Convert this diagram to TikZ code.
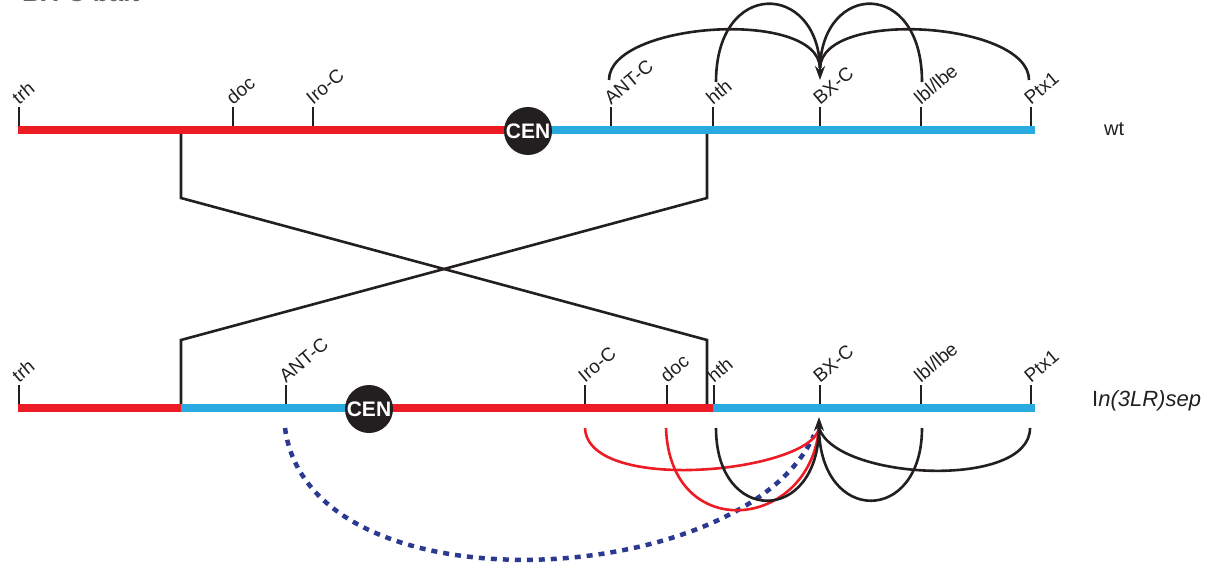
\documentclass[tikz,border=0pt]{standalone}
\usepackage{fontspec}
\setmainfont{Liberation Sans}
\usetikzlibrary{arrows.meta}
\definecolor{cred}{HTML}{ED1C24}
\definecolor{cblue}{HTML}{29ABE2}
\definecolor{cblk}{HTML}{231F20}
\definecolor{cnavy}{HTML}{2B3990}
\tikzset{
  chrom/.style={line width=8pt},
  tick/.style={line width=2.6pt, cblk},
  lab/.style={rotate=40, anchor=south west, inner sep=1pt, font=\fontsize{19}{19}\selectfont, text=cblk},
  link/.style={line width=2.6pt, cblk},
  arc/.style={line width=2.6pt, cblk},
  redarc/.style={line width=2.6pt, cred},
  dotarc/.style={line width=4.5pt, cnavy, dash pattern=on 6pt off 6pt},
  cen/.style={circle, fill=cblk, minimum size=48pt, inner sep=0pt, text=white, font=\fontsize{21}{21}\selectfont\bfseries},
  tip/.style={-{Stealth[length=14pt,width=10pt]}, line width=2.6pt, cblk},
}
\begin{document}
\begin{tikzpicture}[x=1pt,y=-1pt]
\useasboundingbox (0,0) rectangle (1217,564);
% partially visible title
\node[anchor=base west, inner sep=0pt, text=black!60, font=\fontsize{26}{26}\selectfont\bfseries] (title) at (22,1.5) {BX-C bait};

% ---------------- top chromosome (wt)
\draw[chrom, cred] (18,130) -- (510,130);
\draw[chrom, cblue] (545,130) -- (1035,130);
\node[cen] (cenA) at (528,131) {CEN};
\foreach \x/\n/\t in {19/trh/trh, 233/doc/doc, 313/iro/Iro-C, 611/ant/ANT-C, 713/hth/hth, 820/bx/BX-C, 921/lbl/{lbl/lbe}, 1031/ptx/Ptx1}{
  \coordinate (A\n) at (\x,107);
  \draw[tick] (\x,126) -- (A\n);
  \node[lab] (LA\n) at (A\n) {\t};
}
\node[anchor=west, inner sep=0pt, font=\fontsize{20}{20}\selectfont, text=cblk] (wt) at (1104,129) {wt};

% top arcs
\coordinate (topc) at (820,68);
\draw[arc] (609,80) .. controls (609,22) and (818,8) .. (topc);
\draw[arc] (716,82) .. controls (716,-22) and (818,-18) .. (topc);
\draw[arc] (922,82) .. controls (922,-22) and (822,-18) .. (topc);
\draw[arc] (1029,80) .. controls (1029,22) and (822,8) .. (topc);
\coordinate (toptip) at (820,80);
\draw[tip] (820,62) -- (toptip);

% ---------------- crossing lines
\coordinate (c1) at (181,134);
\coordinate (c2) at (181,198);
\coordinate (c3) at (707,340);
\coordinate (c4) at (707,404);
\coordinate (d1) at (707,134);
\coordinate (d2) at (707,198);
\coordinate (d3) at (181,340);
\coordinate (d4) at (181,404);
\draw[link] (c1) -- (c2) -- (c3) -- (c4);
\draw[link] (d1) -- (d2) -- (d3) -- (d4);

% ---------------- bottom chromosome
\draw[chrom, cred] (18,408) -- (181,408);
\draw[chrom, cblue] (181,408) -- (350,408);
\draw[chrom, cred] (390,408) -- (713,408);
\draw[chrom, cblue] (713,408) -- (1035,408);
\node[cen] (cenB) at (369,409) {CEN};
\foreach \x/\n/\t in {19/trh/trh, 286/ant/ANT-C, 585/iro/Iro-C, 667/doc/doc, 714/hth/hth, 820/bx/BX-C, 921/lbl/{lbl/lbe}, 1031/ptx/Ptx1}{
  \coordinate (B\n) at (\x,385);
  \draw[tick] (\x,404) -- (B\n);
  \node[lab] (LB\n) at (B\n) {\t};
}
\node[anchor=west, inner sep=0pt, font=\fontsize{22}{22}\selectfont, text=cblk] (sep) at (1092,401) {I\textit{n(3LR)sep}};

% bottom arcs
\coordinate (botc) at (819,428);
\draw[dotarc] (285,428) .. controls (310,615) and (745,590) .. (814,435);
\draw[redarc] (585,428) .. controls (588,495) and (812,472) .. (botc);
\draw[redarc] (666,428) .. controls (670,545) and (810,530) .. (botc);
\draw[arc] (716,428) .. controls (716,525) and (818,525) .. (botc);
\draw[arc] (922,428) .. controls (922,525) and (820,525) .. (botc);
\draw[arc] (1030,428) .. controls (1030,490) and (836,480) .. (botc);
\coordinate (bottip) at (819,417);
\draw[tip] (819,436) -- (bottip);
\end{tikzpicture}
\end{document}
